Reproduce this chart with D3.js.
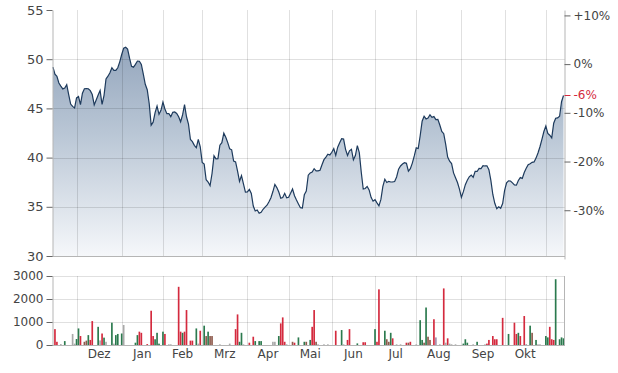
<!DOCTYPE html>
<html>
<head>
<meta charset="utf-8">
<script src="https://cdn.jsdelivr.net/npm/d3@7"></script>
<style>
  body { margin: 0; background: #fff; }
  text { font-family: "DejaVu Sans", Verdana, sans-serif; fill: #444; }
</style>
</head>
<body>
<script>
// trading days (weekdays) shown on the chart
var firstDay = new Date(2021, 10, 15),
    lastDay = new Date(2022, 10, 14);

// daily closing prices, one per weekday
var closes = [
  49.2,48.47,48.25,47.58,47.27,46.98,47.07,47.42,46.4,45.44,
  45.2,45.05,46.06,46.2,45.38,46.55,47.0,47.02,47.0,46.8,
  46.41,45.35,45.86,46.36,46.82,45.4,46.33,48.0,48.27,48.62,
  49.13,48.86,48.87,49.13,49.73,50.48,51.13,51.22,51.03,50.1,
  49.28,49.19,49.47,49.81,49.79,49.47,48.48,47.45,46.9,45.5,
  43.3,43.6,44.57,45.24,44.4,44.8,45.63,44.94,44.47,44.48,
  44.16,44.6,44.64,44.49,44.16,43.64,44.34,45.38,44.15,43.41,
  41.84,41.62,41.25,41.0,41.85,41.08,39.5,39.34,37.75,37.52,
  37.15,38.38,40.18,39.87,39.89,41.26,41.52,42.48,42.06,41.52,
  40.89,40.79,39.64,39.56,38.62,37.59,38.17,37.34,36.5,36.52,
  36.77,36.35,35.08,34.57,34.67,34.34,34.44,34.75,34.96,35.16,
  35.51,35.92,36.55,37.27,36.95,36.5,35.87,35.95,36.37,35.92,
  35.97,36.37,36.81,36.12,35.69,35.29,34.91,34.88,36.22,36.59,
  38.21,38.44,38.54,38.87,38.65,38.66,38.71,39.27,39.79,40.05,
  40.34,40.27,40.54,40.92,40.23,41.06,41.51,41.92,41.88,40.84,
  40.22,40.69,40.85,39.78,40.21,41.21,40.51,38.51,36.8,36.86,
  37.07,36.72,35.96,35.57,35.72,35.4,35.1,35.75,37.08,37.8,
  37.47,37.59,37.52,37.54,37.57,38.03,38.83,39.15,39.35,39.48,
  39.42,38.63,38.88,39.44,40.17,40.99,40.92,42.22,43.7,44.21,
  43.93,44.03,44.35,44.1,44.17,43.87,43.88,43.31,42.65,42.43,
  41.34,40.05,39.63,39.4,38.45,37.96,37.47,36.79,35.96,36.54,
  37.25,37.7,38.05,38.23,38.0,38.6,38.59,38.9,38.88,39.19,
  39.15,39.17,38.78,37.69,36.25,35.36,34.8,35.0,34.85,35.33,
  36.66,37.44,37.63,37.62,37.43,37.22,37.2,37.67,37.97,37.89,
  38.49,38.91,39.27,39.38,39.52,39.56,39.95,40.47,41.1,41.85,
  42.65,43.2,42.46,42.27,42.0,43.5,44.0,44.04,44.2,45.7,
  46.31
];
var basePrice = 49.5;

// volume bars: trading-day index, volume, direction (u up, d down, m mixed, n neutral, p other)
var volDay = [
  1,2,4,6,10,11,12,13,14,16,
  17,18,19,20,23,24,25,26,27,30,
  31,32,33,35,36,42,43,44,45,48,
  50,51,52,53,54,56,57,59,60,64,
  65,66,67,68,70,71,73,74,75,77,
  78,79,80,81,85,90,93,94,95,96,
  97,100,102,103,105,106,112,113,115,116,
  117,118,119,122,123,125,128,129,131,132,
  133,134,135,138,140,144,147,148,150,151,
  155,158,159,164,165,166,169,170,171,172,
  173,175,177,180,181,182,185,187,188,189,
  190,191,192,194,195,197,199,200,201,202,
  203,205,209,210,211,214,216,220,221,222,
  224,225,226,229,232,235,236,237,238,240,
  241,243,244,246,247,248,251,252,253,254,
  255,256,258,259,260
];
var volValue = [
  690,140,40,170,480,60,260,720,390,140,
  190,430,220,1040,790,200,500,320,140,970,
  60,430,480,500,870,100,430,580,530,40,
  1490,390,250,530,60,580,480,30,30,2530,
  580,530,580,1520,190,190,720,60,620,840,
  390,580,390,390,30,60,690,1330,140,530,
  30,100,360,170,170,170,140,140,390,940,
  1200,140,30,140,100,330,140,140,220,790,
  1520,140,30,30,30,620,650,30,220,690,
  70,120,120,690,140,2420,620,250,140,530,
  290,30,30,100,100,140,30,1080,220,100,
  1630,360,220,1120,330,30,2460,100,290,60,
  30,30,60,250,100,30,140,30,60,220,
  390,250,250,1180,480,970,480,530,390,1260,
  40,840,530,220,30,30,390,330,790,250,
  220,2860,250,330,290
];
var volDir = [
  'd','d','n','u','n','n','u','u','d','m',
  'm','u','d','d','u','n','d','u','n','u',
  'n','u','u','u','n','u','u','d','d','d',
  'd','d','u','u','u','u','d','n','n','d',
  'd','u','d','d','d','d','u','n','d','u',
  'm','u','m','m','n','n','d','d','u','u',
  'n','d','d','u','u','u','n','n','u','d',
  'd','d','n','m','d','u','u','m','u','d',
  'd','m','n','n','n','d','u','n','d','d',
  'u','d','d','u','d','d','u','m','m','u',
  'd','n','n','d','m','d','n','u','u','m',
  'u','m','m','d','p','n','d','n','d','n',
  'n','n','u','u','u','n','u','n','d','d',
  'd','d','d','d','u','d','d','u','d','d',
  'n','u','m','u','n','n','u','u','d','d',
  'd','u','u','u','u'
];

var monthNames = ['Jan','Feb','Mrz','Apr','Mai','Jun','Jul','Aug','Sep','Okt','Nov','Dez'];
var priceTicks = [30, 35, 40, 45, 50, 55];
var priceGrid = [35, 40, 45, 50];
var pctTicks = [10, 0, -10, -20, -30];
var volTicks = [0, 1000, 2000, 3000];
var volGrid = [1000, 2000, 3000];

var dirColor = { u: '#2b7a4e', d: '#d42a3e', m: '#8e5a4c', n: '#a9a9a9', p: '#a38fae' };

var W = 618, H = 373;
var pLeft = 52, pRight = 564.5, pTop = 10, pBottom = 256, vTop = 276, vBottom = 345;

var days = d3.timeDay.range(firstDay, d3.timeDay.offset(lastDay, 1))
    .filter(function(d) { return d.getDay() !== 0 && d.getDay() !== 6; });
var n = Math.min(days.length, closes.length);

var x = d3.scaleBand()
    .domain(d3.range(n))
    .range([pLeft, pRight]);
var cx = function(i) { return x(i) + x.bandwidth() / 2; };

var y = d3.scaleLinear().domain([30, 55]).range([pBottom, pTop]);
// percent scale relative to the base price, aligned with the price scale
var yPct = d3.scaleLinear()
    .domain([-40, 11.1])
    .range([y(basePrice * 0.6), y(basePrice * 1.111)]);
var vy = d3.scaleLinear().domain([0, 3000]).range([vBottom, vTop]);

var svg = d3.select('body')
    .append('svg')
    .attr('width', W)
    .attr('height', H);

var defs = svg.append('defs');
var grad = defs.append('linearGradient')
    .attr('id', 'fill')
    .attr('gradientUnits', 'userSpaceOnUse')
    .attr('x1', 0).attr('x2', 0)
    .attr('y1', pTop).attr('y2', pBottom);
grad.append('stop').attr('offset', 0).attr('stop-color', '#8599b3');
grad.append('stop').attr('offset', 0.5).attr('stop-color', '#b9c6d5');
grad.append('stop').attr('offset', 1).attr('stop-color', '#f5f7fa');

// month starts
var monthStarts = [];
for (var i = 1; i < n; i++) {
    if (days[i].getMonth() !== days[i - 1].getMonth()) monthStarts.push(i);
}

// price area and line
var area = d3.area()
    .x(function(d, i) { return cx(i); })
    .y0(pBottom)
    .y1(function(d) { return y(d); });
var line = d3.line()
    .x(function(d, i) { return cx(i); })
    .y(function(d) { return y(d); });

svg.append('path')
    .datum(closes.slice(0, n))
    .attr('d', area)
    .attr('fill', 'url(#fill)');

// grid
var grid = svg.append('g')
    .attr('stroke', 'rgba(0,0,0,0.12)')
    .attr('shape-rendering', 'crispEdges');

grid.selectAll('.hg')
    .data(priceGrid)
    .enter()
    .append('line')
    .attr('x1', pLeft).attr('x2', pRight)
    .attr('y1', function(d) { return Math.round(y(d)) + 0.5; })
    .attr('y2', function(d) { return Math.round(y(d)) + 0.5; });

grid.selectAll('.vg')
    .data(volGrid)
    .enter()
    .append('line')
    .attr('x1', pLeft).attr('x2', pRight)
    .attr('y1', function(d) { return Math.round(vy(d)) + 0.5; })
    .attr('y2', function(d) { return Math.round(vy(d)) + 0.5; });

monthStarts.forEach(function(s) {
    var xx = Math.round(cx(s)) + 0.5;
    grid.append('line').attr('x1', xx).attr('x2', xx).attr('y1', pTop).attr('y2', pBottom);
    grid.append('line').attr('x1', xx).attr('x2', xx).attr('y1', vTop).attr('y2', vBottom);
});

svg.append('path')
    .datum(closes.slice(0, n))
    .attr('d', line)
    .attr('fill', 'none')
    .attr('stroke', '#1d3a5c')
    .attr('stroke-width', 1.2);

// volume bars
var bw = x.bandwidth() * 0.85;
svg.append('g')
    .selectAll('rect')
    .data(volDay)
    .enter()
    .append('rect')
    .attr('x', function(d) { return cx(d) - bw / 2; })
    .attr('width', bw)
    .attr('y', function(d, i) { return vy(volValue[i]); })
    .attr('height', function(d, i) { return vBottom - vy(volValue[i]); })
    .attr('fill', function(d, i) { return dirColor[volDir[i]]; });

// frame lines
var frame = svg.append('g')
    .attr('stroke', '#b5b5b5')
    .attr('shape-rendering', 'crispEdges');
frame.append('line').attr('x1', pLeft).attr('x2', pRight).attr('y1', pBottom + 0.5).attr('y2', pBottom + 0.5);
frame.append('line').attr('x1', pRight).attr('x2', pRight).attr('y1', vTop).attr('y2', vBottom);
frame.append('line').attr('x1', pLeft).attr('x2', pRight).attr('y1', vBottom + 0.5).attr('y2', vBottom + 0.5);

function styleAxis(g) {
    g.select('.domain').attr('stroke', '#b5b5b5');
    g.selectAll('.tick line').attr('stroke', '#666');
    g.selectAll('.tick text').attr('fill', '#444');
}

// left price axis
svg.append('g')
    .attr('transform', 'translate(' + (pLeft + 0.5) + ',0)')
    .call(d3.axisLeft(y).tickValues(priceTicks).tickSizeOuter(0))
    .attr('font-size', 13)
    .attr('font-family', '"DejaVu Sans", Verdana, sans-serif')
    .call(styleAxis);

// right percent axis
svg.append('g')
    .attr('transform', 'translate(' + pRight + ',0)')
    .call(d3.axisRight(yPct).tickValues(pctTicks).tickSizeOuter(0)
        .tickFormat(function(d) { return (d > 0 ? '+' : '') + d + '%'; }))
    .attr('font-size', 12)
    .attr('font-family', '"DejaVu Sans", Verdana, sans-serif')
    .call(styleAxis);

// current performance marker
var lastClose = closes[n - 1];
var lastPct = Math.round((lastClose / basePrice - 1) * 100);
var py = y(lastClose);
svg.append('line')
    .attr('x1', pRight).attr('x2', pRight + 6)
    .attr('y1', py).attr('y2', py)
    .attr('stroke', '#d42a3e');
svg.append('text')
    .attr('x', pRight + 9)
    .attr('y', py)
    .attr('dy', '0.32em')
    .attr('font-size', 12)
    .style('fill', '#d42a3e')
    .text((lastPct > 0 ? '+' : '') + lastPct + '%');

// volume axis
svg.append('g')
    .attr('transform', 'translate(' + (pLeft + 0.5) + ',0)')
    .call(d3.axisLeft(vy).tickValues(volTicks).tickSizeOuter(0).tickFormat(d3.format('d')))
    .attr('font-size', 12)
    .attr('font-family', '"DejaVu Sans", Verdana, sans-serif')
    .call(styleAxis);

// month labels, centred in each full month
for (var k = 0; k < monthStarts.length - 1; k++) {
    var s = monthStarts[k], e = monthStarts[k + 1];
    svg.append('text')
        .attr('x', (cx(s) + cx(e)) / 2)
        .attr('y', 358)
        .attr('text-anchor', 'middle')
        .attr('font-size', 12)
        .text(monthNames[days[s].getMonth()]);
}
</script>
</body>
</html>
